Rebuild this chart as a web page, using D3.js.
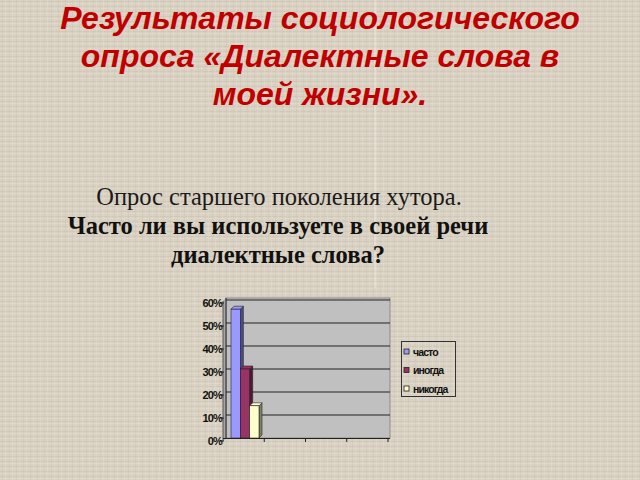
<!DOCTYPE html>
<html><head><meta charset="utf-8">
<script src="https://cdn.jsdelivr.net/npm/d3@7"></script>
<style>html,body{margin:0;padding:0;background:#d6cdbc;}svg{display:block;}</style>
</head><body>
<svg id="c" width="640" height="480"></svg>
<script>
const titleLines = ["Результаты социологического", "опроса «Диалектные слова в", "моей жизни»."];
const subtitleLine = "Опрос старшего поколения хутора.";
const questionLines = ["Часто ли вы используете в своей речи", "диалектные слова?"];
const seriesNames = ["часто", "иногда", "никогда"];
const seriesValues = [0.56, 0.30, 0.14];
const seriesColors = ["#9999ff", "#993366", "#ffffcc"];
const sideColors = ["#4d4d80", "#4d1a33", "#80806a"];
const yTicks = [0, 0.1, 0.2, 0.3, 0.4, 0.5, 0.6];
const xTickCount = 4;

const svg = d3.select("#c");

// linen-like background
const defs = svg.append("defs");
const pat = defs.append("pattern").attr("id","linen").attr("width",7).attr("height",5).attr("patternUnits","userSpaceOnUse");
pat.append("rect").attr("width",7).attr("height",5).attr("fill","#d9d1c2");
pat.append("rect").attr("x",0).attr("y",1).attr("width",7).attr("height",1).attr("fill","#d0c8b8");
pat.append("rect").attr("x",0).attr("y",3).attr("width",7).attr("height",1).attr("fill","#dfd8ca");
pat.append("rect").attr("x",2).attr("y",0).attr("width",1).attr("height",5).attr("fill","#cfc6b5").attr("opacity",0.5);
pat.append("rect").attr("x",5).attr("y",0).attr("width",1).attr("height",5).attr("fill","#e2dbce").attr("opacity",0.5);
svg.append("rect").attr("width",640).attr("height",480).attr("fill","url(#linen)");
svg.append("line").attr("x1",375).attr("x2",375).attr("y1",0).attr("y2",288).attr("stroke","#f4f0e8").attr("stroke-width",1).attr("opacity",0.8);

// Title
svg.append("g").selectAll("text").data(titleLines).join("text")
  .attr("x",320).attr("y",(d,i)=>29+i*38)
  .attr("text-anchor","middle")
  .attr("font-family","Liberation Sans, Arial, sans-serif")
  .attr("font-weight","bold").attr("font-style","italic")
  .attr("font-size",32).attr("fill","#c00000")
  .text(d=>d);

svg.append("text").attr("x",279).attr("y",205).attr("text-anchor","middle")
  .attr("font-family","Liberation Serif, Times New Roman, serif")
  .attr("font-size",24.5).attr("fill","#1a1a1a").text(subtitleLine);
svg.append("g").selectAll("text").data(questionLines).join("text")
  .attr("x",278).attr("y",(d,i)=>234+i*29).attr("text-anchor","middle")
  .attr("font-family","Liberation Serif, Times New Roman, serif")
  .attr("font-weight","bold").attr("font-size",24.5).attr("fill","#111").text(d=>d);

// Chart
const y = d3.scaleLinear().domain([0,0.6]).range([438,300]);
const xTick = d3.scaleLinear().domain([0,xTickCount]).range([223,388]);
const x = d3.scaleBand().domain(seriesNames).range([231,259]).paddingInner(0);
const depth = 3;

const g = svg.append("g");
// back wall
g.append("rect").attr("x",226).attr("y",y(0.6)-2).attr("width",164).attr("height",y(0)-y(0.6)+2)
  .attr("fill","#c0c0c0").attr("stroke","#8a8a8a").attr("stroke-width",1);
// left side wall
g.append("path").attr("d",`M223,${y(0)+3} L226,${y(0)} L226,${y(0.6)-2} L223,${y(0.6)+1} Z`).attr("fill","#a8a8a8");
// gridlines
g.append("g").selectAll("line").data(yTicks.filter(v=>v>0)).join("line")
  .attr("x1",226).attr("x2",390).attr("y1",d=>y(d)).attr("y2",d=>y(d))
  .attr("stroke","#222").attr("stroke-width",1);
// axes
g.append("line").attr("x1",226).attr("x2",226).attr("y1",y(0.6)-2).attr("y2",y(0)+1).attr("stroke","#222");
g.append("line").attr("x1",223).attr("x2",223).attr("y1",y(0.6)+1).attr("y2",y(0)+3).attr("stroke","#555");
g.append("line").attr("x1",223).attr("x2",390).attr("y1",y(0)+0.5).attr("y2",y(0)+0.5).attr("stroke","#222");
g.append("g").selectAll("line").data(d3.range(1,xTickCount+1)).join("line")
  .attr("x1",d=>xTick(d)).attr("x2",d=>xTick(d)).attr("y1",y(0)).attr("y2",y(0)+4).attr("stroke","#222");
g.append("g").selectAll("line").data(yTicks).join("line")
  .attr("x1",220).attr("x2",224).attr("y1",d=>y(d)+3).attr("y2",d=>y(d)+3).attr("stroke","#222");
g.append("g").selectAll("text").data(yTicks).join("text")
  .attr("x",222).attr("y",d=>y(d)+7).attr("text-anchor","end")
  .attr("font-family","Liberation Sans, Arial, sans-serif").attr("font-weight","bold")
  .attr("font-size",11).attr("letter-spacing",-0.8).attr("fill","#111")
  .text(d=>d3.format(".0%")(d));

// bars (3D)
const bars = g.append("g").selectAll("g").data(seriesNames).join("g");
bars.append("path").attr("d",(d,i)=>{const x1=x(d)+x.bandwidth(), yt=y(seriesValues[i]);
   return `M${x1},${yt} L${x1+depth},${yt-depth} L${x1+depth},${y(0)-depth} L${x1},${y(0)} Z`;})
  .attr("fill",(d,i)=>sideColors[i]).attr("stroke","#222").attr("stroke-width",0.6);
bars.append("path").attr("d",(d,i)=>{const x0=x(d), x1=x0+x.bandwidth(), yt=y(seriesValues[i]);
   return `M${x0},${yt} L${x0+depth},${yt-depth} L${x1+depth},${yt-depth} L${x1},${yt} Z`;})
  .attr("fill",(d,i)=>seriesColors[i]).attr("stroke","#222").attr("stroke-width",0.6);
bars.append("rect").attr("x",d=>x(d)).attr("y",(d,i)=>y(seriesValues[i]))
  .attr("width",x.bandwidth()).attr("height",(d,i)=>y(0)-y(seriesValues[i]))
  .attr("fill",(d,i)=>seriesColors[i]).attr("stroke","#222").attr("stroke-width",0.6);

// legend
const lg = svg.append("g");
lg.append("rect").attr("x",401.5).attr("y",341.5).attr("width",54).attr("height",55)
  .attr("fill","none").attr("stroke","#333").attr("stroke-width",1);
const items = lg.selectAll("g").data(seriesNames).join("g")
  .attr("transform",(d,i)=>`translate(404,${352+i*18.5})`);
items.append("rect").attr("x",0).attr("y",-3).attr("width",5).attr("height",5)
  .attr("fill",(d,i)=>seriesColors[i]).attr("stroke","#222").attr("stroke-width",0.8);
items.append("text").attr("x",9).attr("y",3.5)
  .attr("font-family","Liberation Sans, Arial, sans-serif").attr("font-size",10.5)
  .attr("font-weight","bold").attr("letter-spacing",-0.9).attr("fill","#111").text(d=>d);
</script>
</body></html>
